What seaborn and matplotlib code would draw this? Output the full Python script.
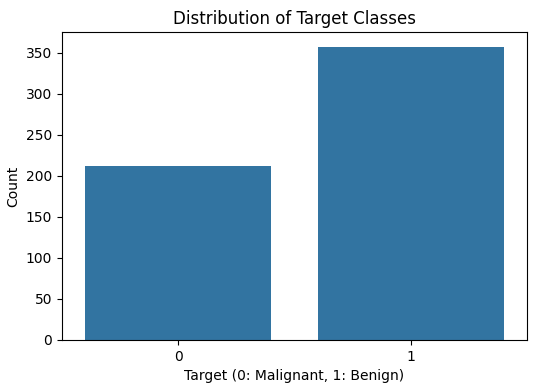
import matplotlib
matplotlib.use("Agg")
import matplotlib.pyplot as plt
import seaborn as sns
import pandas as pd

categories = ["0", "1"]
counts = [212, 357]

df = pd.DataFrame({"target": categories, "count": counts})

fig, ax = plt.subplots(figsize=(5.35, 3.89), dpi=100)
fig.subplots_adjust(left=0.1159, right=0.985, top=0.917, bottom=0.126)
sns.barplot(data=df, x="target", y="count", color="#1f77b4", ax=ax)
ax.set_title("Distribution of Target Classes")
ax.set_xlabel("Target (0: Malignant, 1: Benign)")
ax.set_ylabel("Count")
fig.savefig("out.png", dpi=100)
